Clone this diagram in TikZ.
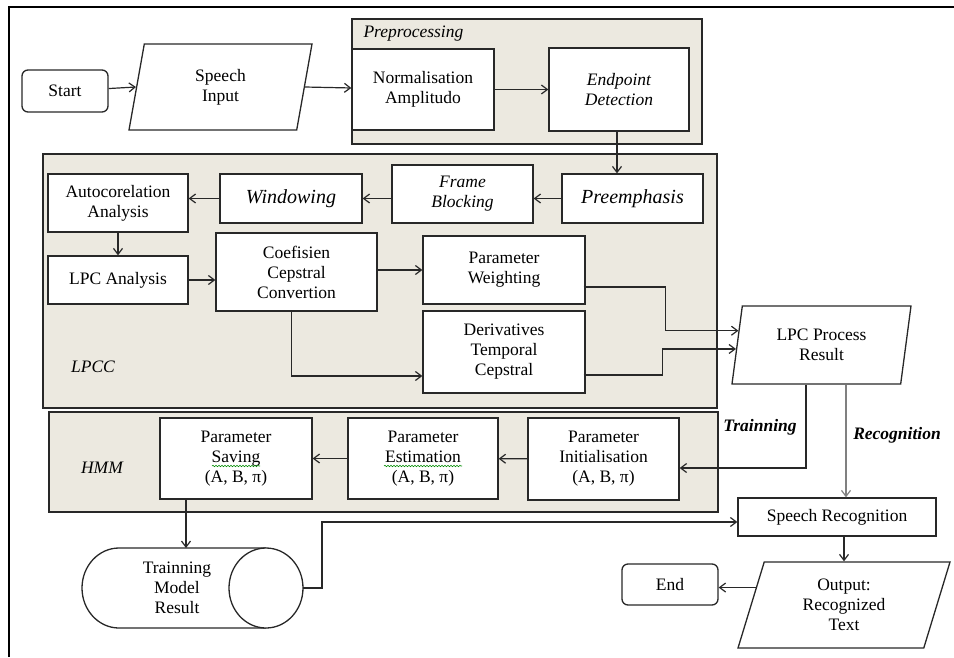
\documentclass[tikz,border=0pt]{standalone}
\usepackage{fontspec}
\setmainfont{Liberation Serif}
\usetikzlibrary{arrows.meta,positioning,shapes.geometric,calc,decorations.pathmorphing}
\definecolor{panelbg}{RGB}{236,233,224}
\definecolor{inkgray}{RGB}{40,40,40}

\begin{document}
\begin{tikzpicture}[
  x=1pt, y=-1pt,
  every node/.style={font=\fontsize{17.5}{20}\selectfont},
  sz/.style 2 args={minimum width=#1pt, minimum height=#2pt},
  box/.style={draw=inkgray, fill=white, line width=1.3pt, align=center, inner sep=1pt},
  term/.style={box, rounded corners=6pt},
  io/.style={box, trapezium, trapezium stretches body},
  panel/.style={draw=inkgray, fill=panelbg, line width=1.3pt},
  it/.style={font=\fontsize{17.5}{20}\selectfont\itshape},
  bigit/.style={font=\fontsize{20}{22}\selectfont\itshape},
  route/.style={font=\fontsize{17.5}{20}\selectfont\bfseries\itshape},
  arr/.style={-{Straight Barb[length=6pt,width=9pt]}, line width=1.2pt, draw=inkgray},
  squig/.style={draw=green!55!black, line width=0.6pt, decorate,
                decoration={snake, amplitude=0.7pt, segment length=3pt}}
]
\useasboundingbox (0,0) rectangle (954,657);
\draw[line width=2.5pt] (9,657) -- (9,7) -- (954,7);

% panels
\draw[panel] (352,19) rectangle (702,144);
\draw[panel] (43,154) rectangle (717,408);
\draw[panel] (49,412) rectangle (718,512);
\node[it, anchor=west] (preTag) at (360,34) {Preprocessing};
\node[it] (lpccTag) at (93,367) {LPCC};
\node[it] (hmmTag) at (102,468) {HMM};

% top row
\node[term, sz={86}{42}] (start) at (65,91) {Start};
\node[io, trapezium left angle=68, trapezium right angle=112, sz={183}{86}] (input) at (220.5,87) {Speech\\Input};
\node[box, sz={142}{81}] (norm) at (423,89.5) {Normalisation\\Amplitudo};
\node[box, it, sz={140}{83}] (endpt) at (619,89.5) {Endpoint\\Detection};

% LPCC
\node[box, bigit, sz={141}{49}] (preem) at (632.5,198.5) {Preemphasis};
\node[box, it, sz={141}{58}] (frame) at (462.5,194) {Frame\\Blocking};
\node[box, bigit, sz={142}{49}] (windw) at (291,198.5) {Windowing};
\node[box, sz={140}{58}] (autoc) at (118,203) {Autocorelation\\Analysis};
\node[box, sz={140}{48}] (lpca) at (118,280) {LPC Analysis};
\node[box, sz={161}{78}] (coef) at (296.5,272) {Coefisien\\Cepstral\\Convertion};
\node[box, sz={162}{68}] (pweig) at (504,270) {Parameter\\Weighting};
\node[box, sz={162}{82}] (deriv) at (504,352) {Derivatives\\Temporal\\Cepstral};
\node[io, trapezium left angle=73, trapezium right angle=107, sz={179}{78}] (lpcres) at (821.5,345) {LPC Process\\Result};

% HMM
\node[box, sz={151}{82}] (pinit) at (603.5,459) {Parameter\\Initialisation\\(A, B, π)};
\node[box, sz={150}{81}] (pest) at (423,458.5) {Parameter\\Estimation\\(A, B, π)};
\node[box, sz={152}{81}] (psave) at (236,458.5) {Parameter\\Saving\\(A, B, π)};
\draw[squig] (212,466) -- (260,466);
\draw[squig] (384,466) -- (462,466);

% stored model (drum)
\draw[box] (266,548) -- (119,548) arc[start angle=-90, end angle=-270, x radius=37, y radius=40] -- (266,628);
\draw[box] (266,588) ellipse[x radius=37, y radius=40];
\coordinate (modelTop) at (119,548);
\coordinate (modelEnd) at (303,588);
\node[align=center] (modelTxt) at (177,588) {Trainning\\Model\\Result};

% bottom
\node[box, sz={198}{38}] (sprec) at (837,517) {Speech Recognition};
\node[io, trapezium left angle=64, trapezium right angle=116, sz={212}{86}] (out) at (844,605) {Output:\\Recognized\\Text};
\node[term, sz={96}{41}] (end) at (670,584.5) {End};

\node[route] (trainTag) at (760,427) {Trainning};
\node[route] (recogTag) at (897,435) {Recognition};

\coordinate (lpcIn1) at ($(lpcres.bottom left corner)!0.68!(lpcres.top left corner)$);
\coordinate (lpcIn2) at ($(lpcres.bottom left corner)!0.45!(lpcres.top left corner)$);
\coordinate (outL) at ($(out.bottom left corner)!0.7!(out.top left corner)$);
\coordinate (trainOut) at ($(lpcres.south)+(-15.5,0)$);
\coordinate (recogOut) at ($(lpcres.south)+(24.5,0)$);
\coordinate (saveOut) at ($(psave.south)+(-50,0)$);

\draw[arr] (start) -- ($(input.bottom left corner)!0.5!(input.top left corner)$);
\draw[arr] ($(input.bottom right corner)!0.5!(input.top right corner)$) -- (norm);
\draw[arr] (norm) -- (endpt);
\draw[arr] (endpt.south -| 617,0) -- (617,0 |- preem.north);
\draw[arr] (preem) -- (preem.west -| frame.east);
\draw[arr] (frame.west |- windw.east) -- (windw);
\draw[arr] (windw) -- (windw.west -| autoc.east);
\draw[arr] (autoc) -- (lpca);
\draw[arr] (lpca) -- (lpca.east -| coef.west);
\draw[arr] (coef.east |- pweig.west) -- (pweig);
\draw[arr] ($(coef.south)+(-5,0)$) |- ($(deriv.west)+(0,24)$);
\draw[arr] ($(pweig.east)+(-2,17)$) -- ++(82,0) |- (lpcIn1);
\draw[arr] ($(deriv.east)+(-2,23)$) -- ++(79,0) |- (lpcIn2);
\draw[arr] (trainOut) |- ($(pinit.east)+(0,9)$);
\draw[arr, draw=black!50] (recogOut) -- (recogOut |- sprec.north);
\draw[arr] (pinit) -- (pest);
\draw[arr] (pest) -- (psave);
\draw[arr] (saveOut) -- (saveOut |- modelTop);
\draw[arr] (modelEnd) -- ++(19,0) |- ($(sprec.west)+(0,5)$);
\draw[arr] (sprec.south -| out.north) -- (out.north);
\draw[arr] (outL) -- (outL -| end.east);
\end{tikzpicture}
\end{document}
